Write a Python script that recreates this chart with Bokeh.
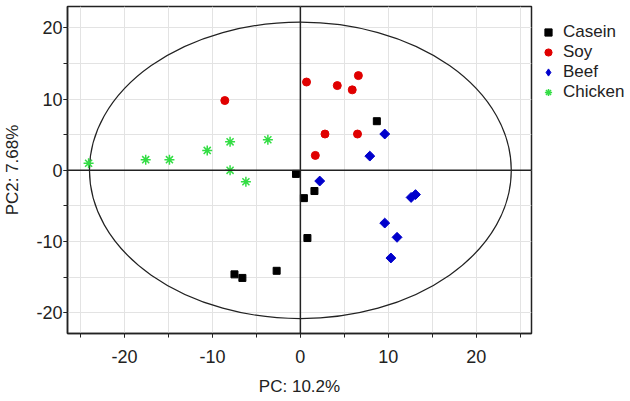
import math
from bokeh.plotting import figure
from bokeh.models import Span, Legend, LegendItem, FixedTicker, Range1d
from bokeh.layouts import row
from bokeh.embed import file_html
from bokeh.resources import INLINE

# ---- data ----
casein_x = [-0.5, 0.4, 1.6, 0.8, -7.5, -6.6, -2.7, 8.7]
casein_y = [-0.5, -3.9, -2.9, -9.5, -14.6, -15.1, -14.1, 6.9]

soy_x = [-8.6, 0.7, 4.2, 5.9, 6.6, 2.8, 6.5, 1.7]
soy_y = [9.8, 12.4, 11.9, 11.3, 13.3, 5.1, 5.1, 2.1]

beef_x = [9.6, 7.9, 2.2, 12.6, 13.1, 9.6, 11.0, 10.3]
beef_y = [5.1, 2.0, -1.5, -3.8, -3.4, -7.4, -9.4, -12.3]

chicken_x = [-24.1, -17.6, -14.9, -10.6, -8.0, -3.7, -8.0, -6.2]
chicken_y = [1.0, 1.5, 1.5, 2.8, 4.0, 4.3, 0.0, -1.6]

ellipse_rx = 24.0
ellipse_ry = 20.8

major_ticks = [-20, -10, 0, 10, 20]
major_tick_labels = {-20: "-20", -10: "-10", 0: "0", 10: "10", 20: "20"}
grid_ticks = [-25, -20, -15, -10, -5, 0, 5, 10, 15, 20, 25]

series_names = ["Casein", "Soy", "Beef", "Chicken"]

x_label = "PC: 10.2%"
y_label = "PC2: 7.68%"

FONT = "Liberation Sans"

p = figure(width=533, height=401, output_backend="svg", toolbar_location=None,
           x_range=Range1d(-26.5, 26.3), y_range=Range1d(-22.9, 23.0),
           min_border_left=67, min_border_right=2, min_border_top=6, min_border_bottom=68)

p.background_fill_color = "white"
p.border_fill_color = "white"
p.outline_line_color = "#222222"
p.outline_line_width = 1.5

# grid
p.xgrid.ticker = FixedTicker(ticks=grid_ticks)
p.ygrid.ticker = FixedTicker(ticks=grid_ticks)
p.xgrid.grid_line_color = "#e3e3e3"
p.ygrid.grid_line_color = "#e3e3e3"

# axes
for ax, lab in ((p.xaxis[0], x_label), (p.yaxis[0], y_label)):
    ax.ticker = FixedTicker(ticks=major_ticks, minor_ticks=grid_ticks)
    ax.major_label_overrides = major_tick_labels
    ax.axis_label = lab
    ax.axis_label_text_font = FONT
    ax.axis_label_text_font_size = "17px"
    ax.axis_label_text_font_style = "normal"
    ax.axis_label_text_color = "#222222"
    ax.major_label_text_font = FONT
    ax.major_label_text_font_size = "18px"
    ax.major_label_text_color = "#222222"
    ax.axis_line_color = "#222222"
    ax.axis_line_width = 1.5
    ax.major_tick_line_color = "#222222"
    ax.minor_tick_line_color = "#222222"
    ax.major_tick_in = 0
    ax.major_tick_out = 4
    ax.minor_tick_in = 0
    ax.minor_tick_out = 4

p.xaxis[0].major_label_standoff = 12
p.xaxis[0].axis_label_standoff = 11
p.yaxis[0].major_label_standoff = 1
p.yaxis[0].axis_label_standoff = 11

# zero lines
p.add_layout(Span(location=0, dimension="height", line_color="#222222", line_width=1.5))
p.add_layout(Span(location=0, dimension="width", line_color="#222222", line_width=1.5))

# ellipse
p.ellipse(x=[0], y=[0], width=[2 * ellipse_rx], height=[2 * ellipse_ry],
          fill_alpha=0, line_color="#222222", line_width=1.2)

styles = [
    dict(marker="square", fill_color="black", line_color="black"),
    dict(marker="circle", fill_color="#e00000", line_color="#e00000"),
    dict(marker="square", angle=math.pi / 4, fill_color="#0000cc", line_color="#0000cc"),
    dict(marker="asterisk", line_color="#33dd44", line_width=1.5),
]
legend_styles = [
    dict(marker="square", fill_color="black", line_color="black"),
    dict(marker="circle", fill_color="#e00000", line_color="#e00000"),
    dict(marker="diamond", fill_color="#0000cc", line_color="#0000cc"),
    dict(marker="asterisk", line_color="#33dd44", line_width=1.5),
]
plot_sizes = [7, 8, 7, 10]
legend_sizes = [7, 8, 10, 10]
all_x = [casein_x, soy_x, beef_x, chicken_x]
all_y = [casein_y, soy_y, beef_y, chicken_y]

for xs, ys, st, sz in zip(all_x, all_y, styles, plot_sizes):
    p.scatter(xs, ys, size=sz, **st)

# legend panel (separate narrow figure so that the legend is not clipped);
# its data ranges are set away from the data so only the legend shows
q = figure(width=97, height=401, output_backend="svg", toolbar_location=None,
           x_axis_type=None, y_axis_type=None,
           x_range=Range1d(1000, 1001), y_range=Range1d(1000, 1001),
           min_border_left=0, min_border_right=0, min_border_top=6, min_border_bottom=68)
q.outline_line_color = None
q.grid.visible = False
q.background_fill_color = "white"
q.border_fill_color = "white"

items = []
for name, xs, ys, st, sz in zip(series_names, all_x, all_y, legend_styles, legend_sizes):
    r = q.scatter(xs, ys, size=sz, **st)
    items.append(LegendItem(label=name, renderers=[r]))

legend = Legend(items=items, location=(6, 231))
legend.label_text_font = FONT
legend.label_text_font_size = "17px"
legend.label_text_color = "#222222"
legend.glyph_width = 18
legend.glyph_height = 20
legend.label_height = 20
legend.label_standoff = 6
legend.spacing = 0
legend.padding = 0
legend.margin = 0
legend.border_line_color = None
legend.background_fill_alpha = 0
q.add_layout(legend, "center")

layout = row(p, q)
open("out.html", "w").write(file_html(layout, INLINE))
